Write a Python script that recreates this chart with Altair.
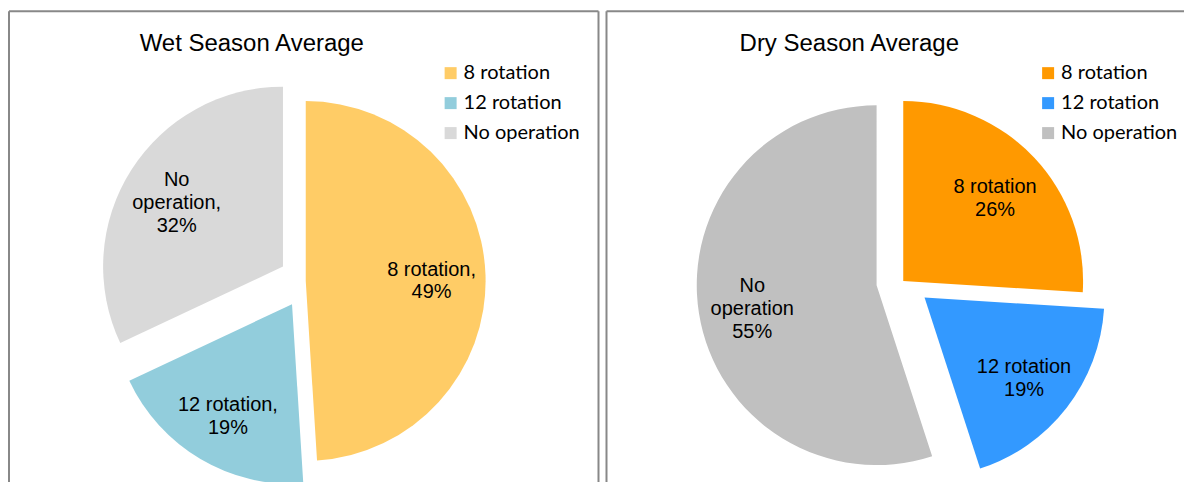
import altair as alt
import pandas as pd

# ---- data ----
categories = ["8 rotation", "12 rotation", "No operation"]
wet_values = [49, 19, 32]
dry_values = [26, 19, 55]
wet_labels = ["8 rotation,\n49%", "12 rotation,\n19%", "No\noperation,\n32%"]
dry_labels = ["8 rotation\n26%", "12 rotation\n19%", "No\noperation\n55%"]
exploded = [0, 1, 1]
wet_colors = ["#FFCC66", "#92CDDC", "#D9D9D9"]
dry_colors = ["#FF9900", "#3399FF", "#C0C0C0"]
titles = ["Wet Season Average", "Dry Season Average"]

# ---- layout constants ----
CX, CY, R, EXPLODE, LABEL_R = 297, 270, 180, 27, 126
LINE_H = 23
H = 472
BORDER = "#888888"


def panel(values, labels, colors, title, width, right_border):
    df = pd.DataFrame({
        "category": categories,
        "value": values,
        "label": labels,
        "explode": exploded,
        "order": list(range(len(categories))),
    })
    base = (
        alt.Chart(df)
        .transform_joinaggregate(total="sum(value)")
        .transform_window(cum="sum(value)", sort=[alt.SortField("order")], frame=[None, 0])
        .transform_calculate(mid="2*PI*(datum.cum - datum.value/2)/datum.total")
        .transform_calculate(nl="length(split(datum.label, '\\n'))")
        .transform_calculate(ex=f"{CX} + datum.explode*{EXPLODE}*sin(datum.mid)")
        .transform_calculate(ey=f"{CY} - datum.explode*{EXPLODE}*cos(datum.mid)")
        .transform_calculate(lx=f"datum.ex + {LABEL_R}*sin(datum.mid)")
        .transform_calculate(ly=f"datum.ey - {LABEL_R}*cos(datum.mid) - (datum.nl - 1)*{LINE_H}/2")
    )
    arcs = base.mark_arc(radius=R, clip=True).encode(
        theta=alt.Theta("value:Q", stack=True),
        order=alt.Order("order:Q"),
        x=alt.X("ex:Q", scale=None, axis=None),
        y=alt.Y("ey:Q", scale=None, axis=None),
        color=alt.Color(
            "category:N",
            scale=alt.Scale(domain=categories, range=colors),
            sort=categories,
            legend=alt.Legend(
                title=None, orient="none", legendX=432, legendY=52,
                symbolType="square", symbolSize=144, symbolStrokeWidth=0,
                labelFont="Lato", labelFontSize=20, labelColor="black",
                rowPadding=10, labelOffset=3, padding=0, labelLimit=300,
            ),
        ),
    )
    texts = base.mark_text(
        font="Liberation Sans", fontSize=20, lineHeight=LINE_H, lineBreak="\n",
        align="center", baseline="middle", color="black", dy=4,
    ).encode(
        x=alt.X("lx:Q", scale=None, axis=None),
        y=alt.Y("ly:Q", scale=None, axis=None),
        text=alt.Text("label:N"),
    )
    tdf = pd.DataFrame({"t": [title]})
    ttl = alt.Chart(tdf).mark_text(
        font="Liberation Sans", fontSize=24, align="center", baseline="alphabetic", color="black"
    ).encode(text="t:N", x=alt.value(243), y=alt.value(40))

    bdf = pd.DataFrame({"b": [0]})
    rule = alt.Chart(bdf).mark_rule(color=BORDER, strokeWidth=2)
    layers = [
        rule.encode(x=alt.value(0), x2=alt.value(width), y=alt.value(0)),
        rule.encode(x=alt.value(0), y=alt.value(0), y2=alt.value(H)),
    ]
    if right_border:
        layers.append(rule.encode(x=alt.value(width), y=alt.value(0), y2=alt.value(H)))
    layers += [arcs, texts, ttl]
    return alt.layer(*layers).properties(width=width, height=H)


wet = panel(wet_values, wet_labels, wet_colors, titles[0], 590, True)
dry = panel(dry_values, dry_labels, dry_colors, titles[1], 578, False)

chart = (
    alt.hconcat(wet, dry, spacing=6)
    .resolve_scale(color="independent")
    .properties(padding={"left": 0, "top": 2, "right": 0, "bottom": 0})
    .configure_view(stroke=None)
)

chart.save("out.html", embed_options={"renderer": "svg", "actions": False})
